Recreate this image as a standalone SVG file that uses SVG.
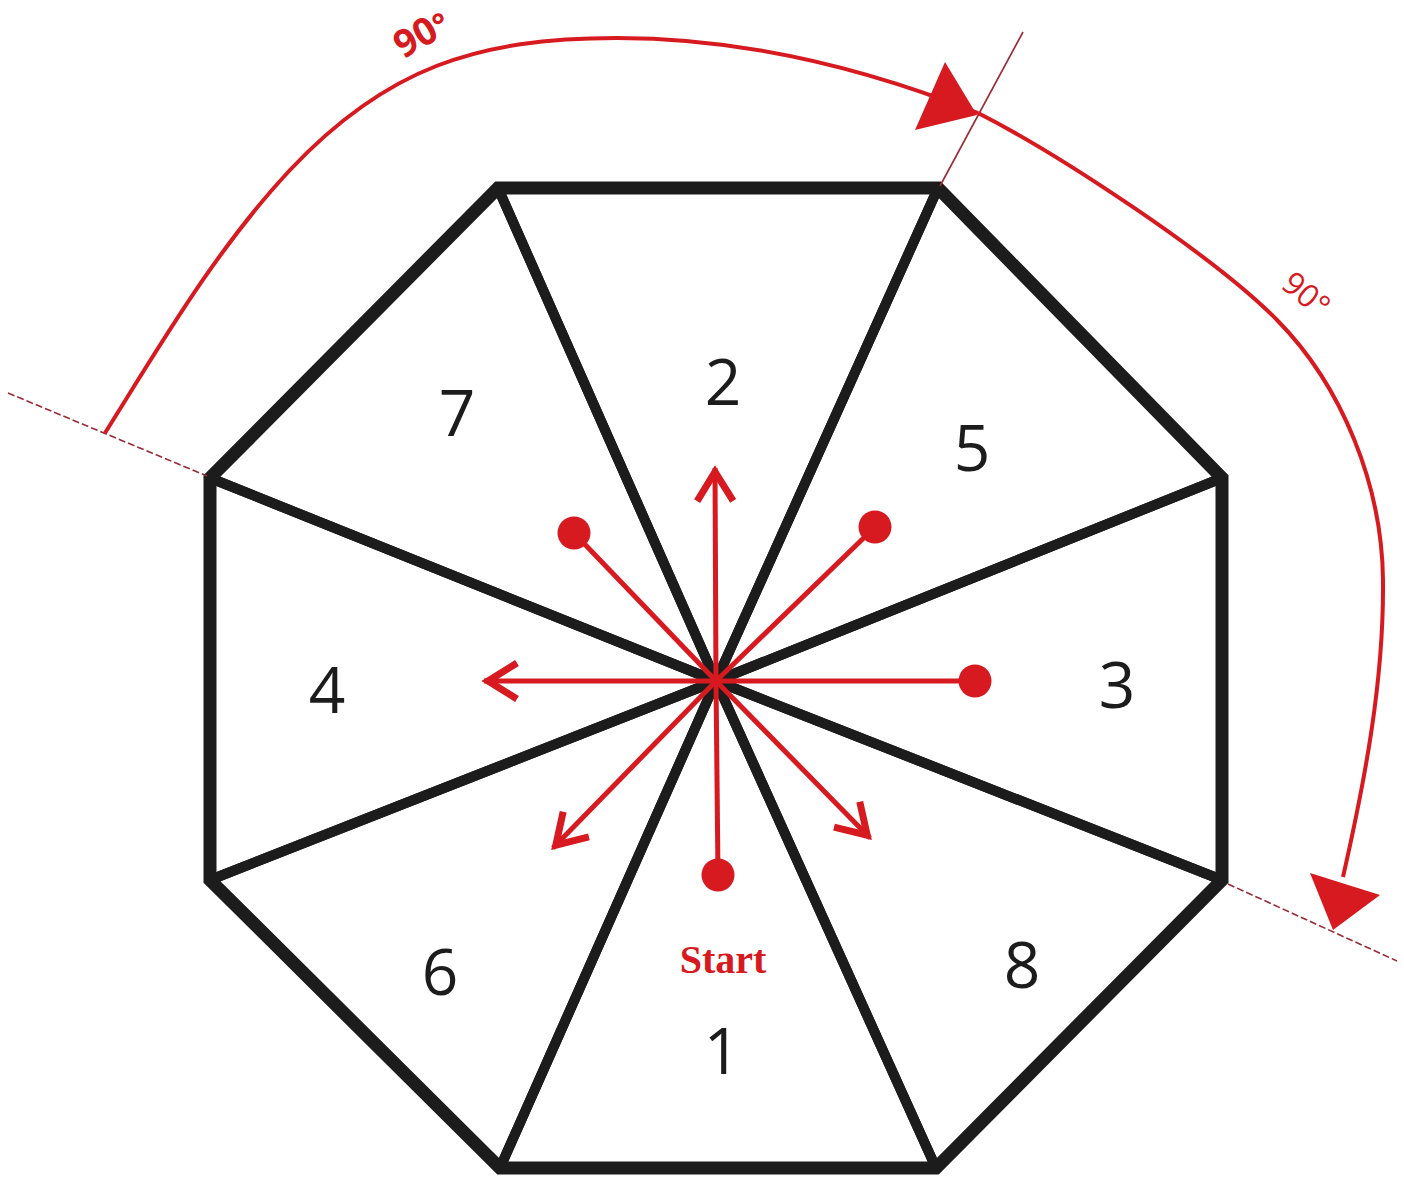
<svg xmlns="http://www.w3.org/2000/svg" width="1404" height="1182" viewBox="0 0 1404 1182">
<defs>
<style>
.spoke{fill:none;stroke:#1c1c1c;stroke-width:10;stroke-linejoin:bevel}
.outline{fill:none;stroke:#1c1c1c;stroke-width:13;stroke-linejoin:miter}
.num{font-family:"Open Sans","Noto Sans",sans-serif;font-size:64px;fill:#1c1c1c;text-anchor:middle}
.ray{stroke:#d71920;stroke-width:5;fill:none}
.dot{fill:#d71920}
.arc{stroke:#d71920;stroke-width:4;fill:none}
.guide{stroke:#9a2a35;stroke-width:1.6;fill:none}
.deg{font-family:"Open Sans","Noto Sans",sans-serif;fill:#d71920;text-anchor:middle}
</style>
<marker id="chev" markerUnits="userSpaceOnUse" viewBox="-40 -25 45 50" markerWidth="45" markerHeight="50" refX="0" refY="0" orient="auto">
<path d="M-33,-18 L-4,0 L-33,18" fill="none" stroke="#d71920" stroke-width="7" stroke-linejoin="miter"/>
</marker>
</defs>
<rect width="1404" height="1182" fill="#ffffff"/>

<g id="sector-2"><polygon class="spoke" points="716,681 498,188 938,188"/><text class="num" x="723" y="405">2</text></g>
<g id="sector-5"><polygon class="spoke" points="716,681 938,188 1222,478"/><text class="num" x="972" y="471">5</text></g>
<g id="sector-3"><polygon class="spoke" points="716,681 1222,478 1222,880"/><text class="num" x="1117" y="708">3</text></g>
<g id="sector-8"><polygon class="spoke" points="716,681 1222,880 936,1168"/><text class="num" x="1022" y="988">8</text></g>
<g id="sector-1"><polygon class="spoke" points="716,681 936,1168 500,1168"/><text class="num" x="722" y="1074">1</text></g>
<g id="sector-6"><polygon class="spoke" points="716,681 500,1168 210,880"/><text class="num" x="440" y="995">6</text></g>
<g id="sector-4"><polygon class="spoke" points="716,681 210,880 210,478"/><text class="num" x="327" y="713">4</text></g>
<g id="sector-7"><polygon class="spoke" points="716,681 210,478 498,188"/><text class="num" x="457" y="436">7</text></g>
<g id="octagon"><polygon class="outline" points="498,188 938,188 1222,478 1222,880 936,1168 500,1168 210,880 210,478"/></g>

<g id="guides">
<line class="guide" x1="8" y1="393" x2="207" y2="476" stroke-dasharray="7 3"/>
<line class="guide" x1="1228" y1="884" x2="1397" y2="961" stroke-dasharray="7 3"/>
<line class="guide" x1="1023" y1="32" x2="940" y2="186"/>
</g>

<g id="connectors">
<line class="ray" x1="716" y1="681" x2="715" y2="468" marker-end="url(#chev)"/>
<line class="ray" x1="716" y1="681" x2="484" y2="681" marker-end="url(#chev)"/>
<line class="ray" x1="716" y1="681" x2="553" y2="848" marker-end="url(#chev)"/>
<line class="ray" x1="716" y1="681" x2="870" y2="838" marker-end="url(#chev)"/>
<line class="ray" x1="716" y1="681" x2="574" y2="533"/>
<line class="ray" x1="716" y1="681" x2="875" y2="527"/>
<line class="ray" x1="716" y1="681" x2="975" y2="681"/>
<line class="ray" x1="716" y1="681" x2="718" y2="875"/>
<circle class="dot" cx="574" cy="533" r="16.5"/>
<circle class="dot" cx="875" cy="527" r="16.5"/>
<circle class="dot" cx="975" cy="681" r="16.5"/>
<circle class="dot" cx="718" cy="875" r="16.5"/>
<path class="arc" d="M105,433 C162,342 217,248 290,170 C386,68 477,38 617,38 C740,38 864,67.5 978,113"/>
<path class="arc" d="M978,113 C1058,153.5 1214,256 1277,320 C1342.8,386.7 1382,486 1383,580 C1384,680 1365,780 1343,877"/>
<polygon fill="#d71920" points="945,62 915,130 977,115"/>
<polygon fill="#d71920" points="1310,873 1380,895 1333,930"/>
</g>

<text x="723" y="973" font-family="Liberation Serif, serif" font-weight="bold" font-size="40" fill="#d71920" text-anchor="middle">Start</text>
<text class="deg" font-weight="bold" font-size="38" transform="translate(428,45) rotate(-30)">90<tspan font-size="32">°</tspan></text>
<text class="deg" font-size="32" transform="translate(1299,303) rotate(40)">90°</text>
</svg>
